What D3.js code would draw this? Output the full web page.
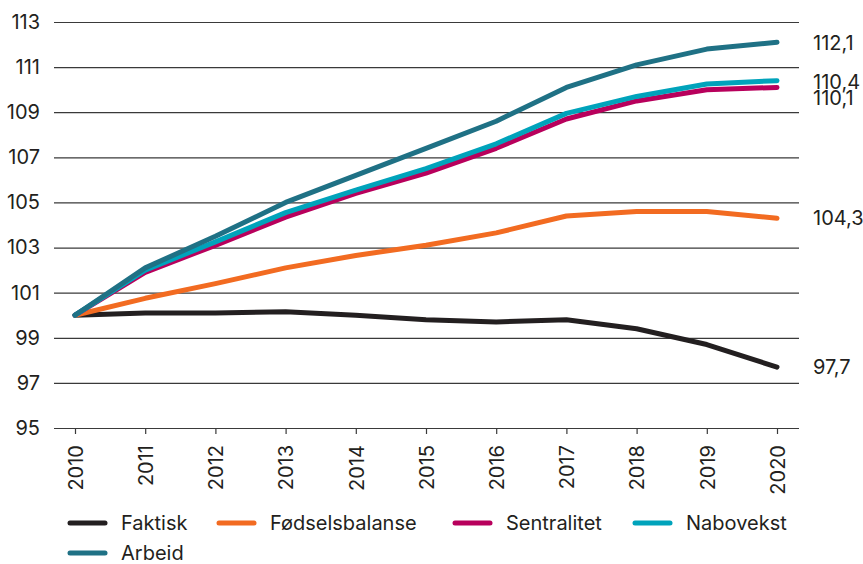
<!DOCTYPE html>
<html>
<head>
<meta charset="utf-8">
<script src="https://cdn.jsdelivr.net/npm/d3@7"></script>
<style>
  body { margin: 0; background: #fff; }
  text { font-family: Inter, "Noto Sans", sans-serif; fill: #231f20; }
</style>
</head>
<body>
<svg id="chart"></svg>
<script>
// Data
const years = [2010, 2011, 2012, 2013, 2014, 2015, 2016, 2017, 2018, 2019, 2020];
const yTicks = [95, 97, 99, 101, 103, 105, 107, 109, 111, 113];

const faktisk = [100, 100.1, 100.1, 100.15, 100.0, 99.8, 99.7, 99.8, 99.4, 98.7, 97.7];
const fodselsbalanse = [100, 100.75, 101.4, 102.1, 102.65, 103.1, 103.65, 104.4, 104.6, 104.6, 104.3];
const sentralitet = [100, 101.9, 103.1, 104.35, 105.4, 106.3, 107.4, 108.7, 109.5, 110.0, 110.1];
const nabovekst = [100, 102.0, 103.25, 104.55, 105.55, 106.5, 107.6, 108.95, 109.7, 110.25, 110.4];
const arbeid = [100, 102.1, 103.5, 105.0, 106.2, 107.4, 108.6, 110.1, 111.1, 111.8, 112.1];

const seriesNames = ['Faktisk', 'Fødselsbalanse', 'Sentralitet', 'Nabovekst', 'Arbeid'];
const seriesValues = [faktisk, fodselsbalanse, sentralitet, nabovekst, arbeid];
const seriesColors = ['#231f20', '#f26b21', '#b8005c', '#00a3bb', '#1f7185'];
const endLabels = ['97,7', '104,3', '110,1', '110,4', '112,1'];

const config = {
  width: 863,
  height: 564,
  margin: { top: 22, right: 64, bottom: 136, left: 54 }
};

const svg = d3.select('#chart')
  .attr('width', config.width)
  .attr('height', config.height);

const innerW = config.width - config.margin.left - config.margin.right;
const innerH = config.height - config.margin.top - config.margin.bottom;

const g = svg.append('g')
  .attr('transform', `translate(${config.margin.left},${config.margin.top})`);

// Scales
const xScale = d3.scalePoint()
  .domain(years)
  .range([21, 723]);

const yScale = d3.scaleLinear()
  .domain([95, 113])
  .range([innerH, 0]);

// Gridlines + y labels
const yAxis = g.append('g')
  .attr('class', 'y-axis')
  .call(d3.axisLeft(yScale).tickValues(yTicks).tickSize(-innerW).tickPadding(14));
yAxis.select('.domain').remove();
yAxis.selectAll('.tick line')
  .attr('stroke', '#3a3a3a')
  .attr('stroke-width', 1.2);
yAxis.selectAll('.tick text')
  .style('font-size', '20px')
  .attr('fill', '#231f20');

// X axis
const xAxis = g.append('g')
  .attr('class', 'x-axis')
  .attr('transform', `translate(0,${innerH})`)
  .call(d3.axisBottom(xScale).tickSize(6).tickPadding(0));
xAxis.select('.domain').remove();
xAxis.selectAll('.tick line')
  .attr('stroke', '#3a3a3a')
  .attr('stroke-width', 1.2);
xAxis.selectAll('.tick text')
  .style('font-size', '20px')
  .attr('fill', '#231f20')
  .attr('transform', 'rotate(-90)')
  .attr('text-anchor', 'end')
  .attr('x', -17)
  .attr('y', 0)
  .attr('dy', '0.36em');

// Lines
const line = d3.line()
  .x((d, i) => xScale(years[i]))
  .y(d => yScale(d));

g.selectAll('.series')
  .data(seriesValues)
  .enter().append('path')
  .attr('class', 'series')
  .attr('d', d => line(d))
  .attr('fill', 'none')
  .attr('stroke', (d, i) => seriesColors[i])
  .attr('stroke-width', 5)
  .attr('stroke-linecap', 'round')
  .attr('stroke-linejoin', 'round');

// End labels (110,4 and 110,1 nudged apart like the original)
const labelOffsets = [0, 0, 10, 1, 0];
g.selectAll('.end-label')
  .data(seriesValues)
  .enter().append('text')
  .attr('class', 'end-label')
  .attr('x', innerW + 14)
  .attr('y', (d, i) => yScale(d[d.length - 1]) + labelOffsets[i])
  .attr('dy', '0.36em')
  .style('font-size', '20px')
  .text((d, i) => endLabels[i]);

// Legend
const legendPos = [
  { x: 68, y: 523 }, { x: 217, y: 523 }, { x: 453, y: 523 }, { x: 633, y: 523 }, { x: 68, y: 553 }
];
const legend = svg.append('g').attr('class', 'legend');
const items = legend.selectAll('.legend-item')
  .data(seriesNames)
  .enter().append('g')
  .attr('class', 'legend-item')
  .attr('transform', (d, i) => `translate(${legendPos[i].x},${legendPos[i].y})`);
items.append('line')
  .attr('x1', 2).attr('x2', 37)
  .attr('y1', 0).attr('y2', 0)
  .attr('stroke', (d, i) => seriesColors[i])
  .attr('stroke-width', 5)
  .attr('stroke-linecap', 'round');
items.append('text')
  .attr('x', 53)
  .attr('y', 0)
  .attr('dy', '0.36em')
  .style('font-size', '20px')
  .text(d => d);
</script>
</body>
</html>
